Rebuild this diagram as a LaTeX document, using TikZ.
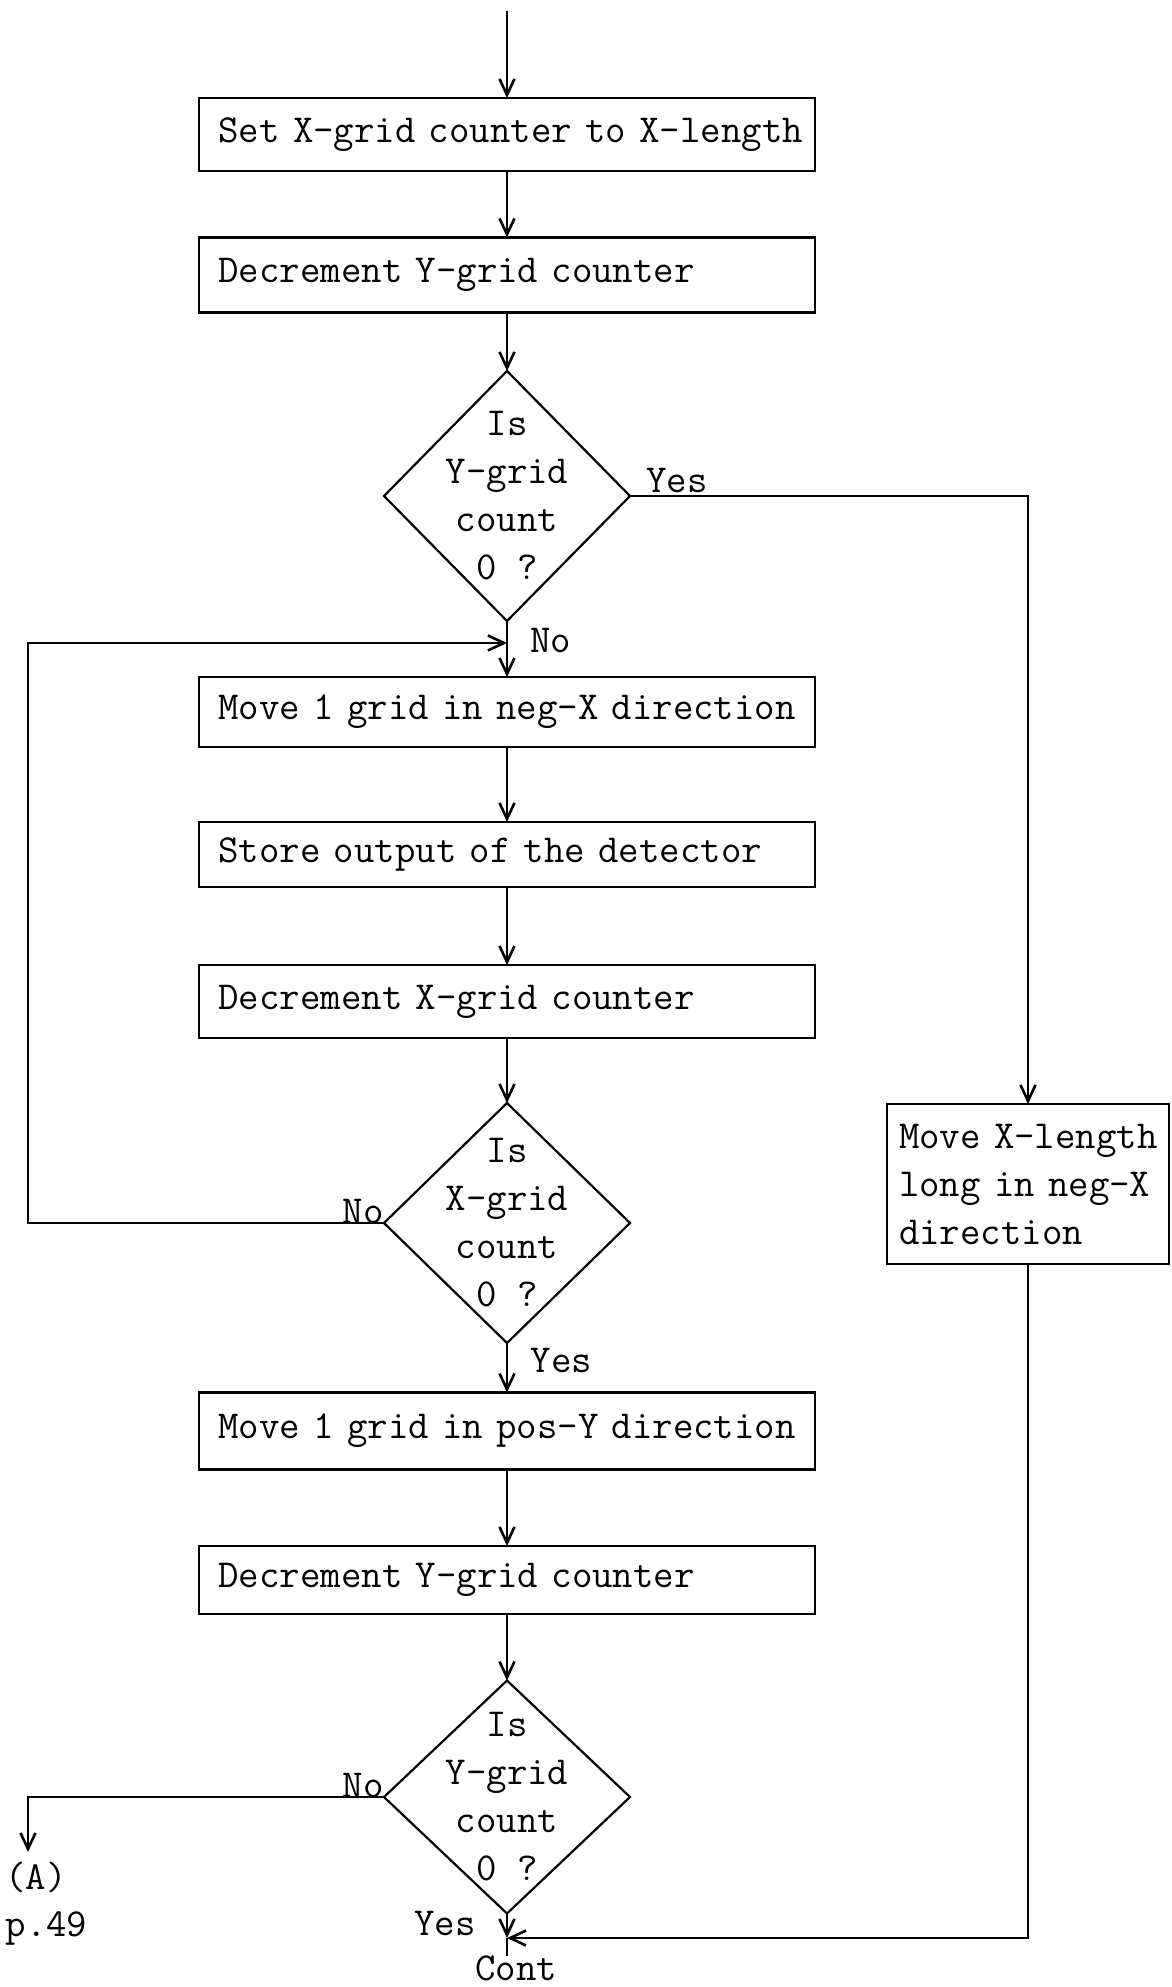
\documentclass[tikz,border=0pt]{standalone}
\usetikzlibrary{arrows.meta,shapes.geometric}
\begin{document}
\begin{tikzpicture}[x=1pt,y=-1pt,
  tt/.style={font=\fontsize{39.7}{48}\selectfont\ttfamily},
  proc/.style={draw, line width=2.2pt, rectangle, tt, text width=577pt,
    inner xsep=19.5pt, inner ysep=0pt, align=left, minimum height=#1, outer sep=0pt},
  rbox/.style={draw, line width=2.2pt, rectangle, tt, text width=258pt,
    inner xsep=12pt, inner ysep=0pt, align=left, minimum height=#1, outer sep=0pt},
  decision/.style={draw, line width=2.2pt, diamond, inner sep=0pt, outer sep=0pt,
    minimum width=246pt, minimum height=#1},
  lbl/.style={tt, inner sep=0pt},
  arr/.style={line width=2.2pt, -{Straight Barb[length=16pt,width=15pt,line width=2.6pt]}},
  plain/.style={line width=2.2pt}
]
\fill[white] (0,0) rectangle (1171,1987);
\useasboundingbox (0,0) rectangle (1171,1987);

% process boxes
\node[proc=73pt] (b1) at (507,134.5) {\mbox{Set X-grid counter to X-length}};
\node[proc=75pt] (b2) at (507,275) {Decrement Y-grid counter};
\node[decision=250pt, label={[tt,align=center]center:Is\\Y-grid\\count\\0 ?}] (d1) at (507,496) {};
\node[proc=70pt] (b3) at (507,712) {\mbox{Move 1 grid in neg-X direction}};
\node[proc=65pt] (b4) at (507,854.5) {Store output of the detector};
\node[proc=73pt] (b5) at (507,1001.5) {Decrement X-grid counter};
\node[decision=240pt, label={[tt,align=center]center:Is\\X-grid\\count\\0 ?}] (d2) at (507,1223) {};
\node[proc=77pt] (b6) at (507,1431) {\mbox{Move 1 grid in pos-Y direction}};
\node[proc=68pt] (b7) at (507,1580) {Decrement Y-grid counter};
\node[decision=233pt, label={[tt,align=center]center:Is\\Y-grid\\count\\0 ?}] (d3) at (507,1797) {};
\node[rbox=160pt] (r) at (1028,1184) {\mbox{Move X-length}\\\mbox{long in neg-X}\\\mbox{direction}};

% coordinates
\coordinate (top) at (507,11);
\coordinate (j1) at (507,643);
\coordinate (lx) at (28,643);
\coordinate (aend) at (28,1852);
\coordinate (m1) at (507,1938);
\coordinate (cend) at (507,1956);

% connectors
\draw[arr] (top) -- (b1.north);
\draw[arr] (b1.south) -- (b2.north);
\draw[arr] (b2.south) -- (d1.north);
\draw[arr] (d1.south) -- (b3.north);
\draw[arr] (d1.east) -| (r.north);
\draw[arr] (b3.south) -- (b4.north);
\draw[arr] (b4.south) -- (b5.north);
\draw[arr] (b5.south) -- (d2.north);
\draw[arr] (d2.west) -| (lx) -- (j1);
\draw[arr] (d2.south) -- (b6.north);
\draw[arr] (b6.south) -- (b7.north);
\draw[arr] (b7.south) -- (d3.north);
\draw[arr] (d3.west) -| (aend);
\draw[arr] (d3.south) -- (m1);
\draw[plain] (m1) -- (cend);
\draw[arr] (r.south) |- (m1);

% labels
\node[lbl] (yes1) at (677,480) {Yes};
\node[lbl] (no1) at (550.5,640) {No};
\node[lbl, anchor=base east] (no2) at (d2.west) {No};
\node[lbl] (yes2) at (561.6,1360) {Yes};
\node[lbl, anchor=base east] (no3) at (d3.west) {No};
\node[lbl] (yes3) at (444.8,1923.5) {Yes};
\node[lbl, anchor=base] (cont) at (516,1980) {Cont};
\node[lbl] (alab) at (36,1877) {(A)};
\node[lbl] (page) at (46.5,1928) {p.49};
\end{tikzpicture}
\end{document}
